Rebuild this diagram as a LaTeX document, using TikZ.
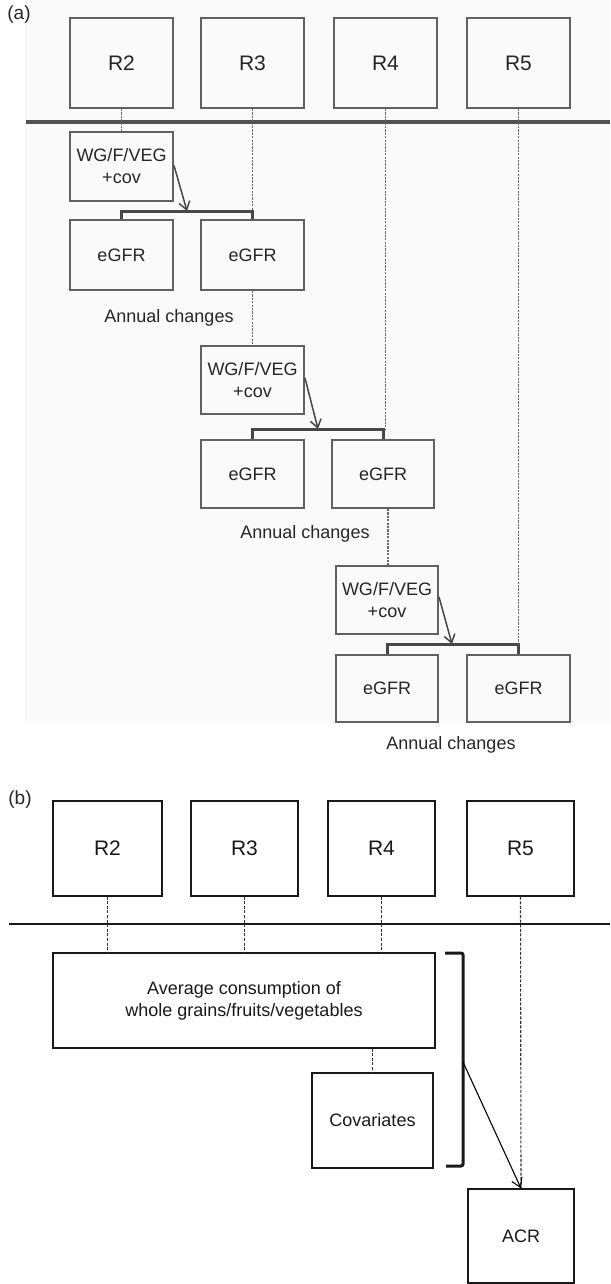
\documentclass[tikz,border=0pt]{standalone}
\usepackage{fontspec}
\setmainfont{Liberation Sans}
\usetikzlibrary{arrows.meta,calc}
\begin{document}
\begin{tikzpicture}[x=1pt,y=-1pt,
  txt/.style={font=\fontsize{18}{22}\selectfont},
  rtxt/.style={font=\fontsize{21}{25}\selectfont},
  abox/.style={draw=black!62, line width=2pt, minimum width=103pt, minimum height=69pt, inner sep=0pt, text=black!85, align=center, txt},
  arbox/.style={abox, minimum height=90pt, rtxt},
  bbox/.style={draw=black!90, line width=1.3pt, minimum width=107pt, minimum height=95pt, inner sep=0pt, text=black!90, align=center, txt},
  brbox/.style={bbox, rtxt},
  adash/.style={draw=black!58, line width=1.6pt, dash pattern=on 2.2pt off 1.2pt},
  bdash/.style={draw=black!80, line width=1.1pt, dash pattern=on 3pt off 1.6pt},
  abrk/.style={draw=black!72, line width=3pt},
  aarr/.style={draw=black!72, line width=1.5pt, -{Straight Barb[length=8pt,width=11pt,line width=1.5pt]}},
  barr/.style={draw=black, line width=1.1pt, -{Straight Barb[length=9pt,width=11pt,line width=1.1pt]}},
  lbl/.style={text=black!85, txt, inner sep=0pt}
]
\useasboundingbox (0,0) rectangle (610,1284);
\fill[black!2] (25,0) rectangle (610,723);

% ---------------- panel (a) ----------------
\node[lbl, font=\fontsize{19}{22}\selectfont] (la) at (19,15) {(a)};
\draw[draw=black!68, line width=3.6pt] (26,122) coordinate (ha1) -- (610,122) coordinate (ha2);

\node[arbox] (aR2) at (121.5,63) {R2};
\node[arbox] (aR3) at (252.5,63) {R3};
\node[arbox] (aR4) at (385.5,63) {R4};
\node[arbox] (aR5) at (518.5,63) {R5};

\node[abox] (wg1) at (121.5,166.5) {WG/F/VEG\\+cov};
\node[abox, minimum height=70pt] (e11) at (121.5,255) {eGFR};
\node[abox, minimum height=70pt] (e12) at (252.5,255) {eGFR};
\node[lbl] (ac1) at (169,318) {Annual changes};

\node[abox, minimum height=68pt] (wg2) at (252.5,380) {WG/F/VEG\\+cov};
\node[abox, minimum height=68pt] (e21) at (252.5,474) {eGFR};
\node[abox, minimum height=68pt, minimum width=102pt] (e22) at (383,474) {eGFR};
\node[lbl] (ac2) at (305,534) {Annual changes};

\node[abox, minimum height=68pt, minimum width=102pt] (wg3) at (387,600) {WG/F/VEG\\+cov};
\node[abox, minimum height=67pt, minimum width=102pt] (e31) at (387,688.5) {eGFR};
\node[abox, minimum height=67pt] (e32) at (518.5,688.5) {eGFR};
\node[lbl] (ac3) at (451,745) {Annual changes};

% brackets
\draw[abrk] (e11.north) -- ++(0,-8) coordinate (b1) -| (e12.north);
\draw[abrk] (e21.north) -- ++(0,-10) coordinate (b2) -| (e22.north);
\draw[abrk] (e31.north) -- ++(0,-10) coordinate (b3) -| (e32.north);

% dashed
\draw[adash] (aR2.south) -- (wg1.north);
\draw[adash] (aR3.south) -- (aR3.south |- b1);
\draw[adash] (e12.south) -- (wg2.north);
\draw[adash] (aR4.south) -- (aR4.south |- b2);
\draw[adash] ([xshift=1pt]wg3.north |- e22.south) -- ([xshift=1pt]wg3.north);
\draw[adash] (aR5.south) -- (aR5.south |- b3);

% arrows
\coordinate (t1) at (187,211);
\coordinate (t2) at (318,429);
\coordinate (t3) at (452,644);
\draw[aarr] ([yshift=1pt]wg1.east) -- (t1);
\draw[aarr] ([yshift=2pt]wg2.east) -- (t2);
\draw[aarr] ([yshift=3pt]wg3.east) -- (t3);

% ---------------- panel (b) ----------------
\node[lbl, font=\fontsize{19}{22}\selectfont] (lb) at (20,800) {(b)};
\draw[draw=black!90, line width=2.6pt] (9,924) coordinate (hb1) -- (610,924) coordinate (hb2);

\node[brbox, minimum width=109pt] (bR2) at (107.5,848.5) {R2};
\node[brbox] (bR3) at (244.5,848.5) {R3};
\node[brbox] (bR4) at (381.5,848.5) {R4};
\node[brbox] (bR5) at (520.5,848.5) {R5};

\node[bbox, minimum width=382pt] (avg) at (244,1000.5) {Average consumption of\\whole grains/fruits/vegetables};
\node[bbox, minimum width=121pt] (cov) at (372.5,1120.5) {Covariates};
\node[bbox, minimum width=106pt, minimum height=94pt] (acr) at (521,1236) {ACR};

\draw[bdash] (bR2.south) -- (bR2.south |- avg.north);
\draw[bdash] (bR3.south) -- (bR3.south |- avg.north);
\draw[bdash] (bR4.south) -- (bR4.south |- avg.north);
\draw[bdash] (cov.north |- avg.south) -- (cov.north);
\draw[bdash] (bR5.south) -- (acr.north);

% bracket (b)
\coordinate (k1) at (445,953);
\coordinate (k2) at (463,953);
\coordinate (k3) at (463,1166);
\coordinate (k4) at (446,1166);
\coordinate (km) at (463,1062);
\draw[draw=black!90, line width=3pt, rounded corners=2pt] (k1) -- (k2) -- (k3) -- (k4);
\draw[barr] (km) -- (acr.north);
\end{tikzpicture}
\end{document}
